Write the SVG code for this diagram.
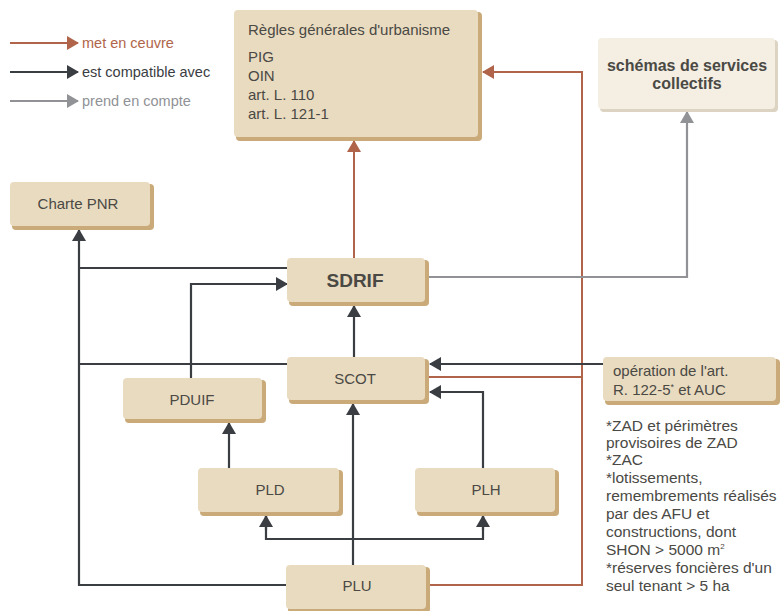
<svg xmlns="http://www.w3.org/2000/svg" width="782" height="611" viewBox="0 0 782 611">
<defs>
<marker id="ab" markerWidth="12" markerHeight="14" refX="11" refY="7" orient="auto" markerUnits="userSpaceOnUse"><path d="M0,0 L12,7 L0,14 Z" fill="#3a3d42"/></marker>
<marker id="ar" markerWidth="12" markerHeight="14" refX="11" refY="7" orient="auto" markerUnits="userSpaceOnUse"><path d="M0,0 L12,7 L0,14 Z" fill="#b0654a"/></marker>
<marker id="ag" markerWidth="12" markerHeight="14" refX="11" refY="7" orient="auto" markerUnits="userSpaceOnUse"><path d="M0,0 L12,7 L0,14 Z" fill="#909296"/></marker>
</defs>
<style>
.box{fill:#e9dbc0;stroke:none}
.sh{fill:#c9aa78}
.lt{fill:#f4eee3}
.t{font-family:"Liberation Sans",Arial,sans-serif;font-size:15px;fill:#4a4944}
.lg{font-size:14.5px}
.n{font-size:15.5px}
.c{text-anchor:middle}
.b{font-weight:bold}
.k{fill:none;stroke:#3a3d42;stroke-width:2.2}
.r{fill:none;stroke:#b0654a;stroke-width:2}
.g{fill:none;stroke:#909296;stroke-width:2.2}
</style>
<rect width="782" height="611" fill="#ffffff"/>

<g id="legend">
<line class="r" x1="10" y1="43" x2="78" y2="43" marker-end="url(#ar)"/>
<text class="t lg" x="82" y="48" style="fill:#b0654a">met en ceuvre</text>
<line class="k" x1="10" y1="72" x2="78" y2="72" marker-end="url(#ab)"/>
<text class="t lg" x="82" y="77" style="fill:#3a3d42">est compatible avec</text>
<line class="g" x1="10" y1="101" x2="78" y2="101" marker-end="url(#ag)"/>
<text class="t lg" x="82" y="106" style="fill:#909296">prend en compte</text>
</g>

<g id="connectors">
<line class="r" x1="354" y1="258" x2="354" y2="141" marker-end="url(#ar)"/>
<polyline class="r" points="429,585 582,585 582,72 483,72" marker-end="url(#ar)"/>
<line class="r" x1="429" y1="377" x2="582" y2="377"/>
<polyline class="g" points="428,277 687,277 687,112" marker-end="url(#ag)"/>
<polyline class="k" points="287,585 79,585 79,230" marker-end="url(#ab)"/>
<line class="k" x1="79" y1="268" x2="287" y2="268"/>
<line class="k" x1="79" y1="364" x2="287" y2="364"/>
<polyline class="k" points="191,378 191,284 287,284" marker-end="url(#ab)"/>
<line class="k" x1="354" y1="357" x2="354" y2="306" marker-end="url(#ab)"/>
<line class="k" x1="603" y1="364" x2="430" y2="364" marker-end="url(#ab)"/>
<polyline class="k" points="483,468 483,392 430,392" marker-end="url(#ab)"/>
<line class="k" x1="229" y1="468" x2="229" y2="423" marker-end="url(#ab)"/>
<line class="k" x1="353" y1="565" x2="353" y2="404" marker-end="url(#ab)"/>
<polyline class="k" points="266,516 266,539 483,539 483,516"/>
<line class="k" x1="266" y1="530" x2="266" y2="516" marker-end="url(#ab)"/>
<line class="k" x1="483" y1="530" x2="483" y2="516" marker-end="url(#ab)"/>
</g>

<g id="regles">
<rect class="sh" x="236" y="12" width="246" height="129" rx="4"/>
<rect class="box" x="234" y="10" width="244" height="127" rx="4"/>
<text class="t" x="248" y="35">Règles générales d'urbanisme</text>
<text class="t" x="248" y="62">PIG</text>
<text class="t" x="248" y="81">OIN</text>
<text class="t" x="248" y="100">art. L. 110</text>
<text class="t" x="248" y="119">art. L. 121-1</text>
</g>

<g id="schemas">
<rect class="sh" x="600" y="40" width="178" height="72" rx="4" style="fill:#ddd3c2"/>
<rect class="lt" x="598" y="38" width="177" height="71" rx="4"/>
<text class="t c b" x="687" y="71" style="font-size:16px">schémas de services</text>
<text class="t c b" x="687" y="89" style="font-size:16px">collectifs</text>
</g>

<g id="charte">
<rect class="sh" x="12" y="184" width="142" height="46" rx="4"/>
<rect class="box" x="10" y="182" width="140" height="44" rx="4"/>
<text class="t c" x="78" y="209">Charte PNR</text>
</g>

<g id="sdrif">
<rect class="sh" x="289" y="260" width="140" height="46" rx="4"/>
<rect class="box" x="287" y="258" width="138" height="44" rx="4"/>
<text class="t c b" x="355" y="287" style="font-size:19px">SDRIF</text>
</g>

<g id="scot">
<rect class="sh" x="289" y="359" width="140" height="45" rx="4"/>
<rect class="box" x="287" y="357" width="138" height="43" rx="4"/>
<text class="t c" x="355" y="384">SCOT</text>
</g>

<g id="pduif">
<rect class="sh" x="125" y="380" width="141" height="43" rx="4"/>
<rect class="box" x="123" y="378" width="139" height="41" rx="4"/>
<text class="t c" x="192" y="405">PDUIF</text>
</g>

<g id="pld">
<rect class="sh" x="200" y="470" width="143" height="46" rx="4"/>
<rect class="box" x="198" y="468" width="141" height="44" rx="4"/>
<text class="t c" x="270" y="495">PLD</text>
</g>

<g id="plh">
<rect class="sh" x="417" y="470" width="142" height="46" rx="4"/>
<rect class="box" x="415" y="468" width="140" height="44" rx="4"/>
<text class="t c" x="486" y="495">PLH</text>
</g>

<g id="plu">
<rect class="sh" x="288" y="567" width="142" height="46" rx="4"/>
<rect class="box" x="286" y="565" width="140" height="44" rx="4"/>
<text class="t c" x="357" y="591">PLU</text>
</g>

<g id="operation">
<rect class="sh" x="605" y="359" width="175" height="46" rx="4"/>
<rect class="box" x="603" y="357" width="173" height="44" rx="4"/>
<text class="t" x="613" y="376">opération de l'art.</text>
<text class="t" x="613" y="395">R. 122-5<tspan dy="-5" font-size="9">*</tspan><tspan dy="5"> et AUC</tspan></text>
</g>

<g id="notes">
<text class="t n" x="606" y="431">*ZAD et périmètres</text>
<text class="t n" x="606" y="448">provisoires de ZAD</text>
<text class="t n" x="606" y="465">*ZAC</text>
<text class="t n" x="606" y="483">*lotissements,</text>
<text class="t n" x="606" y="501">remembrements réalisés</text>
<text class="t n" x="606" y="519">par des AFU et</text>
<text class="t n" x="606" y="537">constructions, dont</text>
<text class="t n" x="606" y="555">SHON &gt; 5000 m<tspan dy="-6" font-size="8">2</tspan></text>
<text class="t n" x="606" y="573">*réserves foncières d'un</text>
<text class="t n" x="606" y="591">seul tenant &gt; 5 ha</text>
</g>
</svg>
